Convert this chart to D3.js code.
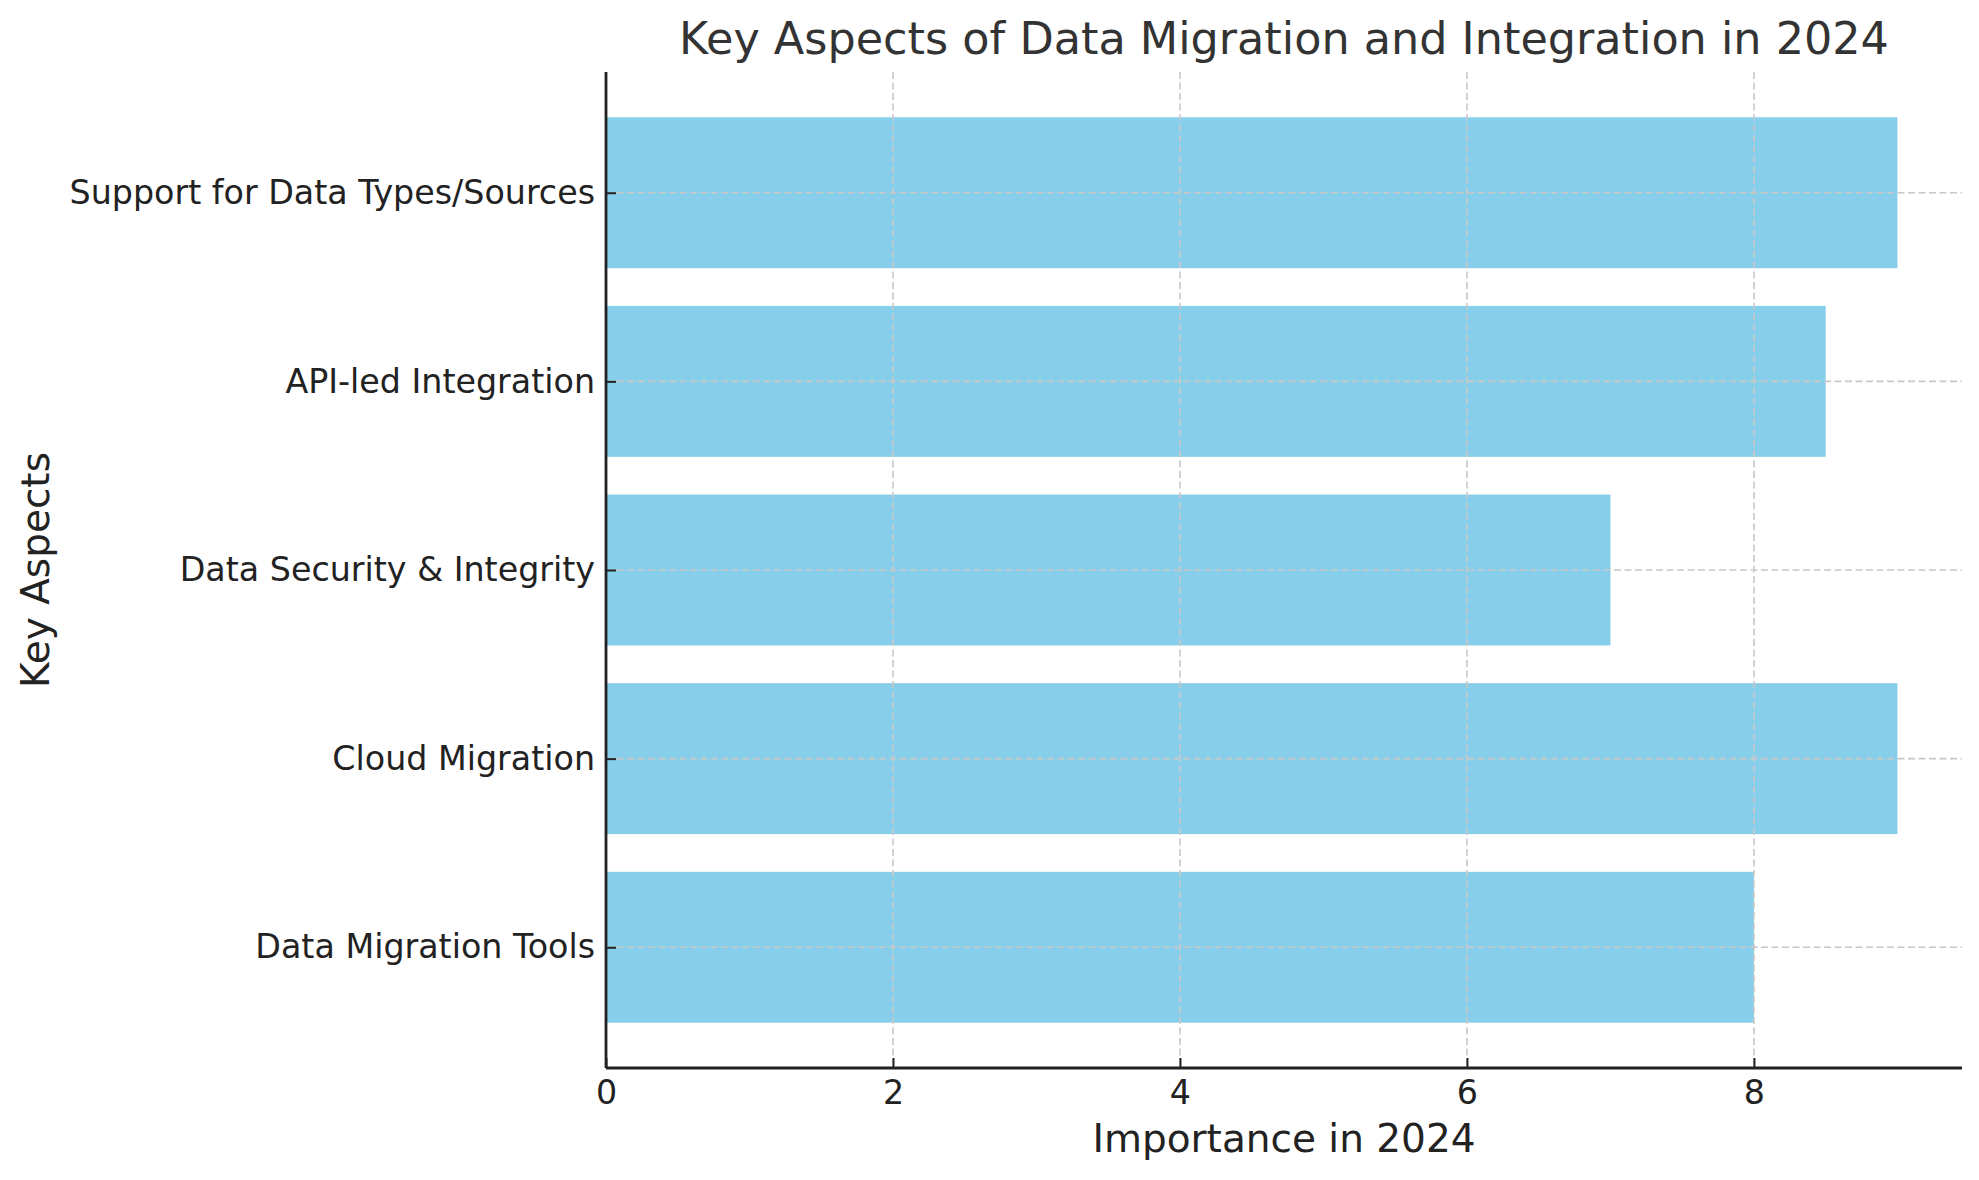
<!DOCTYPE html>
<html>
<head>
<meta charset="utf-8">
<script src="https://cdn.jsdelivr.net/npm/d3@7"></script>
<style>
  body { margin: 0; background: #fff; }
  text { font-family: "DejaVu Sans", sans-serif; }
</style>
</head>
<body>
<div id="chart"></div>
<script>
var WIDTH = 1979
var HEIGHT = 1180

// data, bottom to top as drawn
var aspects = ["Data Migration Tools", "Cloud Migration", "Data Security & Integrity", "API-led Integration", "Support for Data Types/Sources"]
var importance = [8, 9, 7, 8.5, 9]
var xTicks = [0, 2, 4, 6, 8]

var margin = {top: 72, right: 17, bottom: 112, left: 606}
var plotW = WIDTH - margin.left - margin.right
var plotH = HEIGHT - margin.top - margin.bottom

var svg = d3.select("#chart").append("svg")
  .attr("width", WIDTH)
  .attr("height", HEIGHT)

var g = svg.append("g")
  .attr("transform", "translate(" + margin.left + "," + margin.top + ")")

// matplotlib style padding: 5% on the value side, bars of 0.8 width
var maxVal = d3.max(importance)
var x = d3.scaleLinear().domain([0, maxVal * 1.05]).range([0, plotW])
var y = d3.scaleLinear().domain([-0.64, aspects.length - 1 + 0.64]).range([plotH, 0])
var barH = y(0) - y(0.8)

g.selectAll(".bar")
  .data(importance)
  .enter()
  .append("rect")
  .attr("class", "bar")
  .attr("x", x(0))
  .attr("y", function(d, i) { return y(i + 0.4) })
  .attr("width", function(d) { return x(d) - x(0) })
  .attr("height", barH)
  .attr("fill", "#87ceeb")

// grid on top of bars
var gridStyle = function(sel) {
  sel.attr("stroke", "#c8c8c8")
    .attr("stroke-width", 1.6)
    .attr("stroke-dasharray", "7,3.5")
}
g.selectAll(".vgrid")
  .data(xTicks.slice(1))
  .enter()
  .append("line")
  .attr("class", "vgrid")
  .attr("x1", function(d) { return x(d) })
  .attr("x2", function(d) { return x(d) })
  .attr("y1", 0)
  .attr("y2", plotH)
  .call(gridStyle)
g.selectAll(".hgrid")
  .data(aspects)
  .enter()
  .append("line")
  .attr("class", "hgrid")
  .attr("x1", 0)
  .attr("x2", plotW)
  .attr("y1", function(d, i) { return y(i) })
  .attr("y2", function(d, i) { return y(i) })
  .call(gridStyle)

// axes, ticks pointing inward
var xAxis = d3.axisBottom(x).tickValues(xTicks).tickSizeInner(-10).tickSizeOuter(0).tickPadding(12)
var yAxis = d3.axisLeft(y).tickValues(d3.range(aspects.length))
  .tickFormat(function(d) { return aspects[d] })
  .tickSizeInner(-10).tickSizeOuter(0).tickPadding(11)

var gx = g.append("g")
  .attr("transform", "translate(0," + plotH + ")")
  .call(xAxis)
var gy = g.append("g")
  .call(yAxis)

;[gx, gy].forEach(function(ax) {
  ax.select(".domain").attr("stroke", "#222").attr("stroke-width", 2.8)
  ax.selectAll(".tick line").attr("stroke", "#222").attr("stroke-width", 2)
  ax.selectAll(".tick text")
    .attr("fill", "#222")
    .style("font-size", "33.3px")
    .style("font-family", "DejaVu Sans")
})
gx.selectAll(".tick text").attr("dy", "0.71em")

// axis domain lines span the whole plot
gx.select(".domain").attr("d", "M0,0H" + plotW)
gy.select(".domain").attr("d", "M0,0V" + plotH)

// title and labels
svg.append("text")
  .attr("x", margin.left + plotW / 2)
  .attr("y", 54)
  .attr("text-anchor", "middle")
  .attr("fill", "#333")
  .style("font-size", "44.5px")
  .text("Key Aspects of Data Migration and Integration in 2024")

svg.append("text")
  .attr("x", margin.left + plotW / 2)
  .attr("y", 1152)
  .attr("text-anchor", "middle")
  .attr("fill", "#222")
  .style("font-size", "39px")
  .text("Importance in 2024")

svg.append("text")
  .attr("transform", "translate(49," + (margin.top + plotH / 2) + ") rotate(-90)")
  .attr("text-anchor", "middle")
  .attr("fill", "#222")
  .style("font-size", "39px")
  .text("Key Aspects")
</script>
</body>
</html>
